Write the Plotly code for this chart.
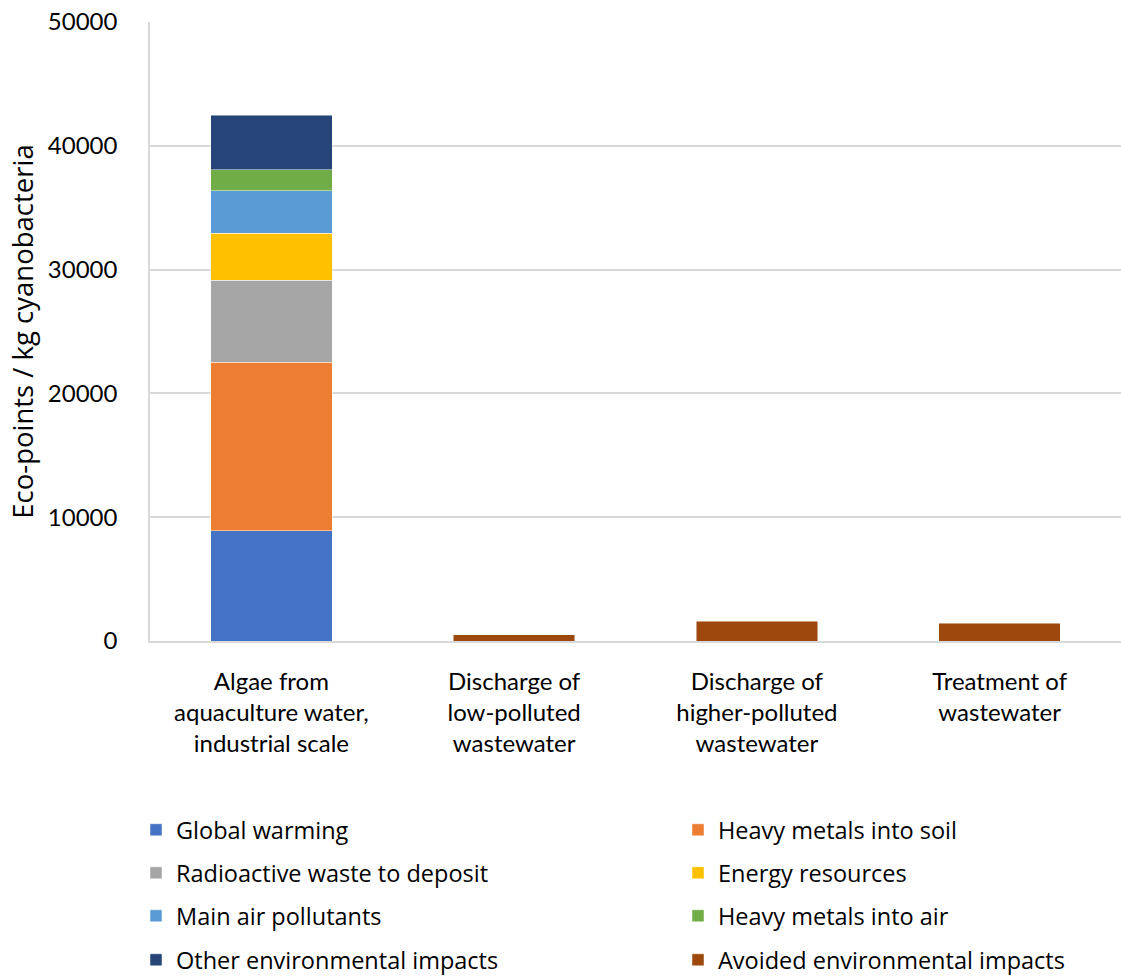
import plotly.graph_objects as go

# Product systems on the x axis
categories = [
    "Algae from<br>aquaculture water,<br>industrial scale",
    "Discharge of<br>low-polluted<br>wastewater",
    "Discharge of<br>higher-polluted<br>wastewater",
    "Treatment of<br>wastewater",
]

# Eco-points per kg cyanobacteria, by impact category
global_warming = [8900, None, None, None]
heavy_metals_soil = [13600, None, None, None]
radioactive_waste = [6650, None, None, None]
energy_resources = [3800, None, None, None]
main_air_pollutants = [3400, None, None, None]
heavy_metals_air = [1700, None, None, None]
other_impacts = [4400, None, None, None]
avoided_impacts = [None, 500, 1600, 1450]

y_ticks = [0, 10000, 20000, 30000, 40000, 50000]

series = [
    ("Global warming", global_warming, "#4472C4"),
    ("Heavy metals into soil", heavy_metals_soil, "#ED7D31"),
    ("Radioactive waste to deposit", radioactive_waste, "#A5A5A5"),
    ("Energy resources", energy_resources, "#FFC000"),
    ("Main air pollutants", main_air_pollutants, "#5B9BD5"),
    ("Heavy metals into air", heavy_metals_air, "#70AD47"),
    ("Other environmental impacts", other_impacts, "#264478"),
    ("Avoided environmental impacts", avoided_impacts, "#9E480E"),
]

FONT = "Lato"
LEGEND_FONT = "Open Sans"
W, H = 1121, 976
ML, MR, MT, MB = 150, 0, 22, 335
plot_h = H - MT - MB
plot_w = W - ML - MR

# one legend box per entry: two columns, four rows
col_left_px = [136, 678]
row_centers_px = [830, 873, 916, 960]

fig = go.Figure()
layout_legends = {}
for i, (name, vals, color) in enumerate(series):
    legend_id = "legend" if i == 0 else f"legend{i + 1}"
    fig.add_trace(go.Bar(
        x=categories, y=vals, name=name,
        marker=dict(color=color, line=dict(color="rgba(255,255,255,0.6)", width=0.8)),
        legend=legend_id,
    ))
    row, col = divmod(i, 2)
    layout_legends[legend_id] = dict(
        orientation="v",
        x=(col_left_px[col] - ML) / plot_w, xanchor="left",
        y=(H - MB - row_centers_px[row]) / plot_h, yanchor="middle",
        font=dict(family=LEGEND_FONT, size=23.5, color="#000000"),
        bgcolor="rgba(0,0,0,0)",
    )

fig.update_layout(
    width=W, height=H,
    margin=dict(l=ML, r=MR, t=MT, b=MB, autoexpand=False),
    barmode="stack", bargap=0.5,
    plot_bgcolor="white", paper_bgcolor="white",
    font=dict(family=FONT, size=24, color="#000000"),
    showlegend=True,
    **layout_legends,
)

fig.update_xaxes(
    showline=True, linecolor="#D9D9D9", linewidth=1.5,
    showgrid=False, ticks="", ticklabelstandoff=18,
    tickfont=dict(family=FONT, size=24, color="#000000"),
)
fig.update_yaxes(
    range=[0, 50000], tickvals=y_ticks, ticktext=[str(v) for v in y_ticks],
    showgrid=True, gridcolor="#D9D9D9", gridwidth=1.5,
    showline=True, linecolor="#D9D9D9", linewidth=1.5,
    zeroline=False, ticks="", ticklabelstandoff=26,
    tickfont=dict(family=FONT, size=24, color="#000000"),
    title=dict(text="Eco-points / kg cyanobacteria", standoff=6,
               font=dict(family=LEGEND_FONT, size=27.5, color="#000000")),
)

fig.write_html("out.html")
